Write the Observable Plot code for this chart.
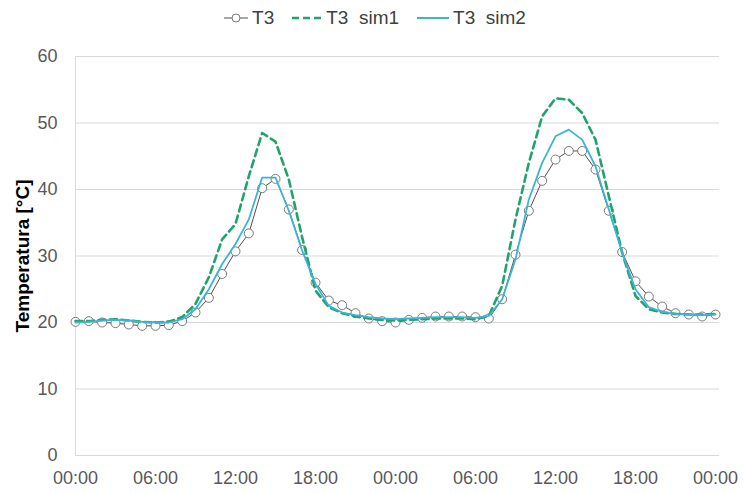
<!DOCTYPE html>
<html>
<head>
<meta charset="utf-8">
<script src="https://cdn.jsdelivr.net/npm/d3@7"></script>
<script src="https://cdn.jsdelivr.net/npm/@observablehq/plot@0.6"></script>
<style>
  html, body { margin: 0; padding: 0; background: #fff; }
  body { width: 744px; height: 493px; overflow: hidden; font-family: "Liberation Sans", Arial, sans-serif; }
  #legend { height: 36px; display: flex; justify-content: center; align-items: center; padding-left: 6px; box-sizing: border-box; font-size: 19px; color: #404040; white-space: pre; }
  #legend .item { display: flex; align-items: center; margin: 0 9px; }
  #legend svg { margin-right: 4px; }
  #chart svg [aria-label="y-axis label"] text { font-weight: bold; fill: #000; font-size: 19px; }
</style>
</head>
<body>
<div id="legend"></div>
<div id="chart"></div>
<script>
const hours = d3.range(0, 49);
const seriesNames = ["T3", "T3  sim1", "T3  sim2"];
const t3 = [20.1, 20.2, 20.0, 19.9, 19.7, 19.5, 19.5, 19.6, 20.2, 21.5, 23.7, 27.3, 30.7, 33.4, 40.2, 41.6, 37.0, 30.9, 26.0, 23.3, 22.6, 21.4, 20.6, 20.2, 20.0,
            20.4, 20.7, 20.9, 20.9, 20.9, 20.8, 20.6, 23.5, 30.2, 36.8, 41.3, 44.5, 45.8, 45.8, 43.0, 36.8, 30.6, 26.2, 23.9, 22.4, 21.4, 21.2, 20.9, 21.2];
const sim1 = [20.2, 20.2, 20.4, 20.5, 20.3, 20.1, 20.0, 20.1, 20.8, 22.8, 26.8, 32.5, 34.8, 42.0, 48.5, 47.2, 41.5, 32.8, 24.8, 22.3, 21.4, 20.9, 20.6, 20.4, 20.3,
              20.4, 20.5, 20.6, 20.6, 20.6, 20.5, 21.0, 25.5, 35.5, 44.0, 51.0, 53.7, 53.5, 51.5, 47.5, 39.0, 30.5, 24.0, 22.0, 21.5, 21.3, 21.2, 21.2, 21.3];
const sim2 = [20.0, 20.1, 20.3, 20.4, 20.3, 20.1, 20.0, 20.0, 20.5, 22.0, 25.0, 28.8, 31.8, 35.5, 41.8, 41.8, 36.8, 30.8, 25.8, 22.5, 21.5, 21.1, 20.8, 20.6, 20.5,
              20.6, 20.7, 20.8, 20.8, 20.8, 20.7, 21.0, 23.5, 29.5, 38.5, 44.0, 48.0, 49.0, 47.5, 43.5, 37.0, 30.5, 25.0, 22.3, 21.6, 21.3, 21.2, 21.1, 21.2];
const xTicks = [0, 6, 12, 18, 24, 30, 36, 42, 48];
const xTickLabels = ["00:00", "06:00", "12:00", "18:00", "00:00", "06:00", "12:00", "18:00", "00:00"];
const yTicks = [0, 10, 20, 30, 40, 50, 60];

const colors = { t3Line: "#5b4b4b", t3Marker: "#7a7a7a", sim1: "#22a36c", sim2: "#3ab5d8" };

const rows = (vals) => hours.map((h, i) => ({ h, v: vals[i] }));
const dT3 = rows(t3), dS1 = rows(sim1), dS2 = rows(sim2);

// Legend
const legend = document.getElementById("legend");
const swatches = [
  `<svg width="24" height="14"><line x1="0" y1="7" x2="24" y2="7" stroke="${colors.t3Line}" stroke-width="1"/><circle cx="12" cy="7" r="4" fill="#fff" stroke="${colors.t3Marker}" stroke-width="1"/></svg>`,
  `<svg width="30" height="14"><line x1="0" y1="7" x2="30" y2="7" stroke="${colors.sim1}" stroke-width="2.5" stroke-dasharray="7,4"/></svg>`,
  `<svg width="32" height="14"><line x1="0" y1="7" x2="32" y2="7" stroke="${colors.sim2}" stroke-width="2"/></svg>`
];
seriesNames.forEach((name, i) => {
  const it = document.createElement("div");
  it.className = "item";
  it.innerHTML = swatches[i] + `<span>${name}</span>`;
  legend.appendChild(it);
});

const chart = Plot.plot({
  width: 744,
  height: 457,
  marginTop: 20,
  marginBottom: 38,
  marginLeft: 75,
  marginRight: 25,
  style: { fontFamily: "Liberation Sans, Arial, sans-serif", background: "#fff" },
  x: { domain: [0, 48.3] },
  y: { domain: [0, 60] },
  marks: [
    Plot.gridY(yTicks, { stroke: "#d9d9d9", strokeOpacity: 1 }),
    Plot.ruleX([0], { stroke: "#d9d9d9" }),
    Plot.axisX(xTicks, { tickSize: 0, tickPadding: 16, fontSize: 18, fill: "#595959", tickFormat: (d, i) => xTickLabels[i], label: null }),
    Plot.axisY(yTicks, { tickSize: 0, tickPadding: 18, fontSize: 18, fill: "#595959", label: "Temperatura [°C]", labelAnchor: "center", labelArrow: "none", labelOffset: 60 }),
    Plot.line(dT3, { x: "h", y: "v", stroke: colors.t3Line, strokeWidth: 1 }),
    Plot.dot(dT3, { x: "h", y: "v", r: 4.5, fill: "#fff", stroke: colors.t3Marker, strokeWidth: 1 }),
    Plot.line(dS1, { x: "h", y: "v", stroke: colors.sim1, strokeWidth: 2.6, strokeDasharray: "7,4.5" }),
    Plot.line(dS2, { x: "h", y: "v", stroke: colors.sim2, strokeWidth: 1.8 })
  ]
});
document.getElementById("chart").appendChild(chart);
</script>
</body>
</html>
